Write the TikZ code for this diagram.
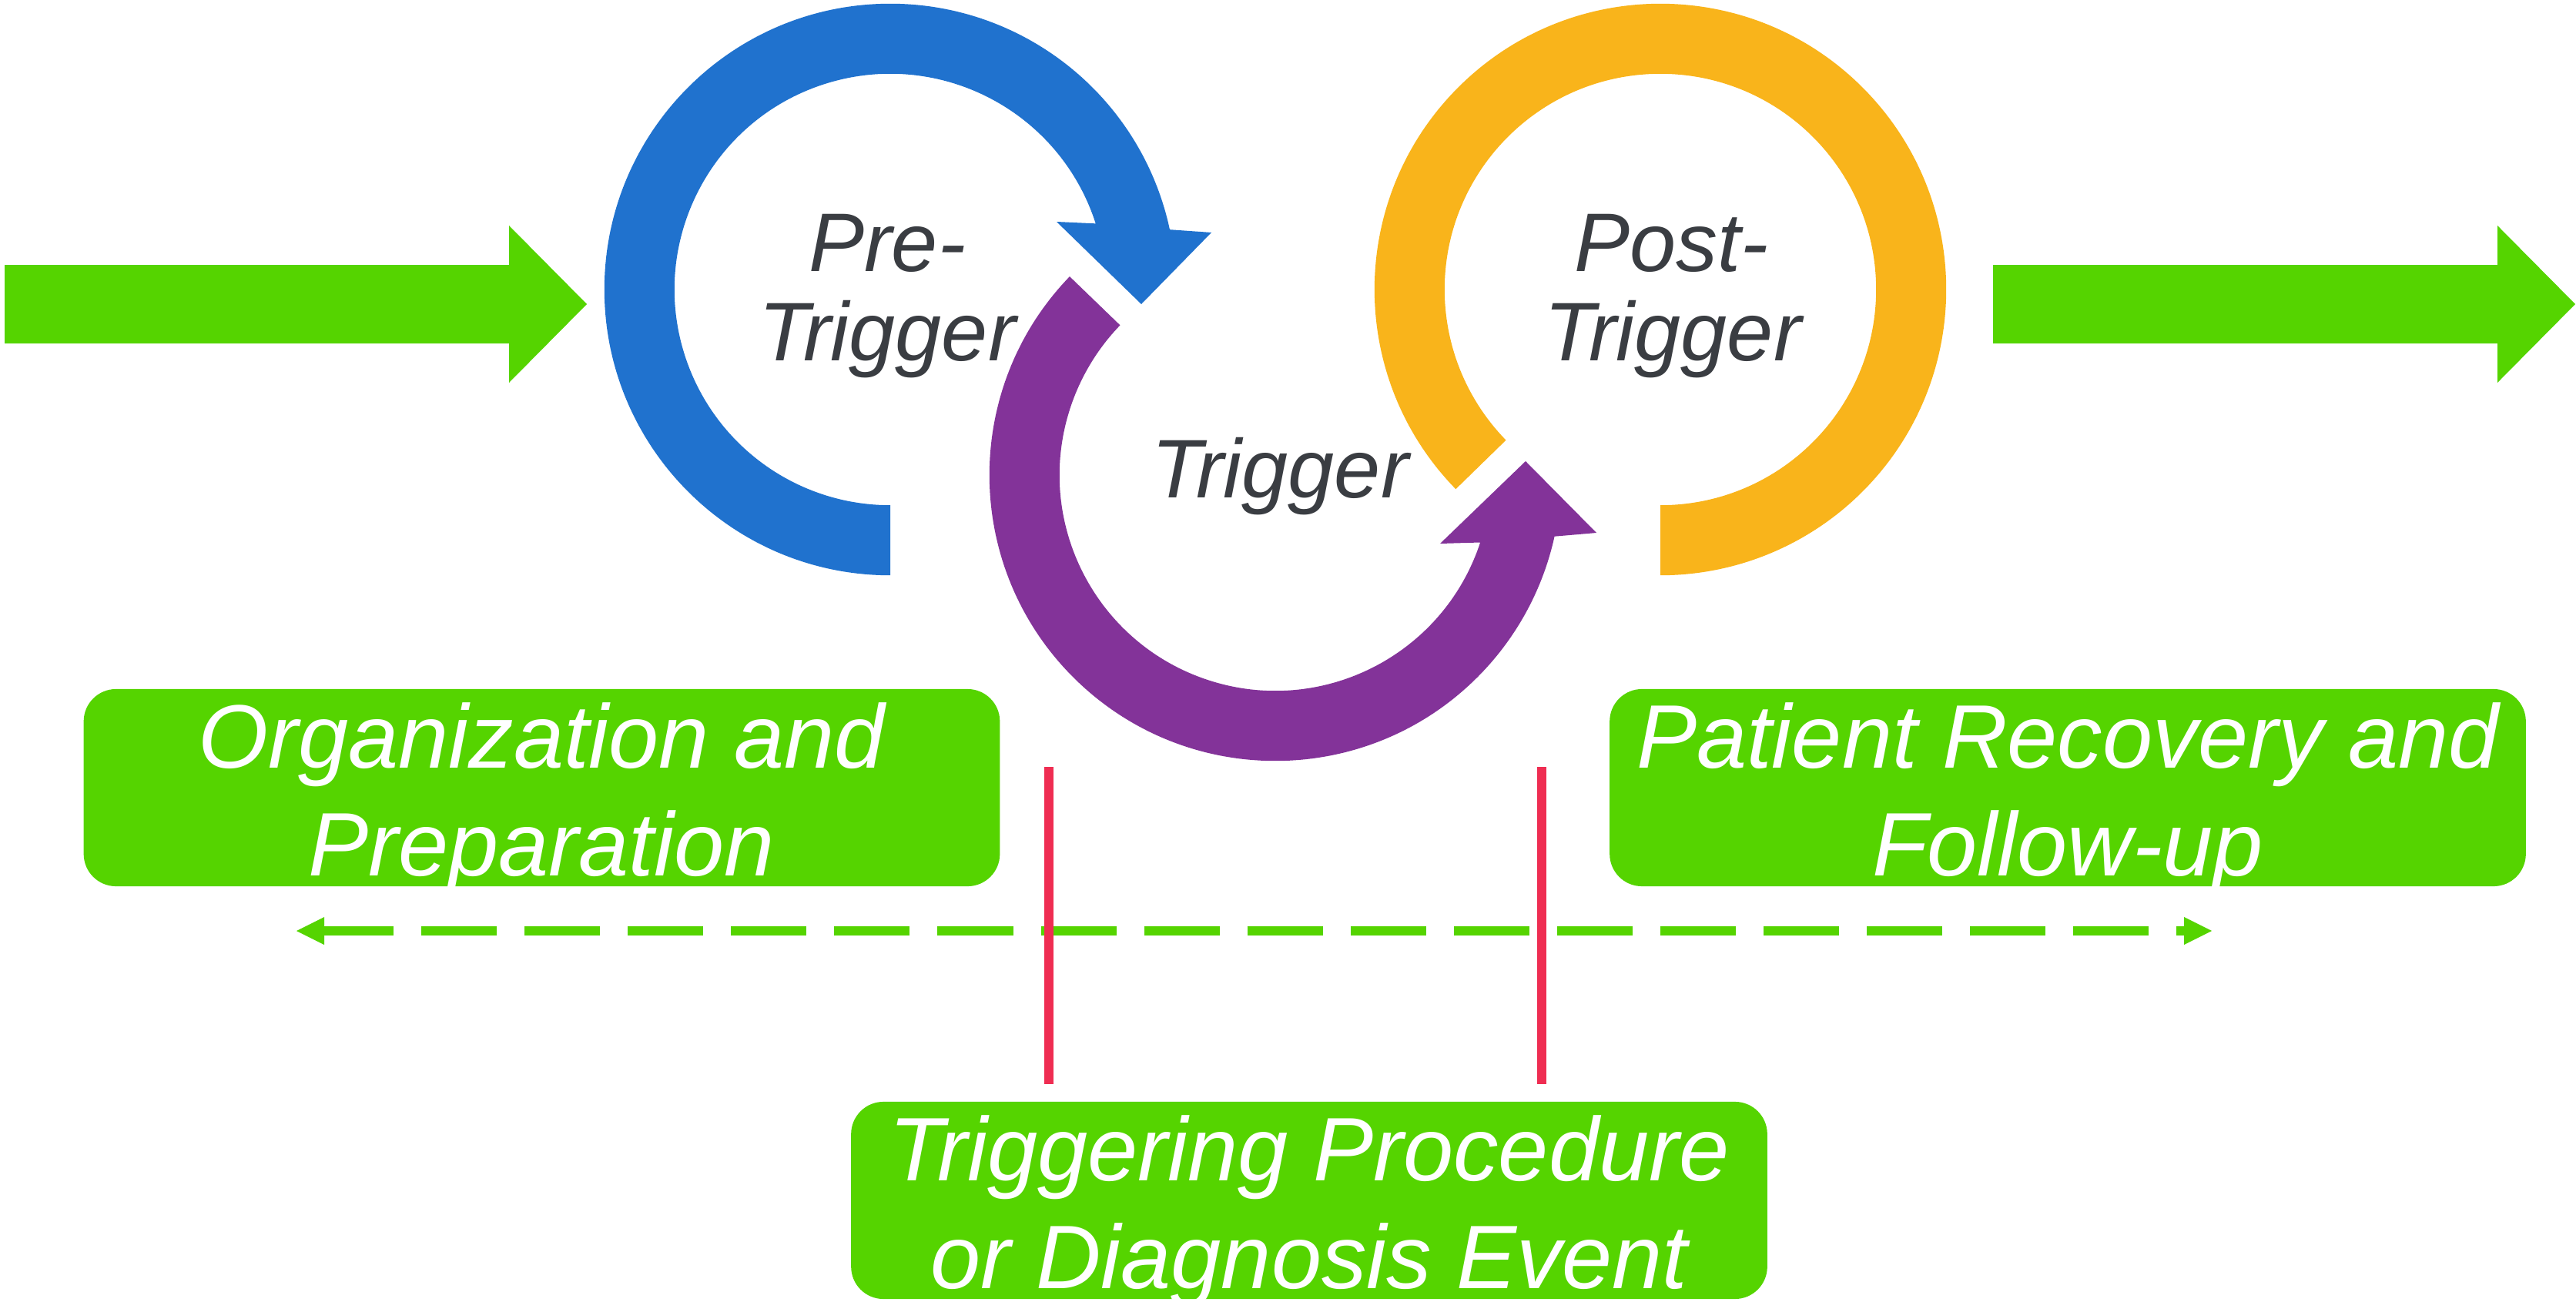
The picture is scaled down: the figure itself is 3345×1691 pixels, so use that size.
\documentclass[tikz,border=0pt]{standalone}
\usepackage{fontspec}
\setmainfont{Liberation Sans}
\usetikzlibrary{arrows.meta,calc}
\definecolor{gr}{RGB}{85,212,0}
\definecolor{bl}{RGB}{32,114,206}
\definecolor{pu}{RGB}{131,51,153}
\definecolor{ye}{RGB}{249,180,27}
\definecolor{rd}{RGB}{239,45,82}
\definecolor{tx}{RGB}{58,61,66}
\begin{document}
\begin{tikzpicture}[x=0.01cm,y=0.01cm,
  box/.style={fill=gr, rounded corners=0.42cm, minimum width=11.89cm, minimum height=2.56cm, inner sep=0pt},
  boxtext/.style={anchor=base, text=white, font=\fontsize{33.3}{40}\selectfont\itshape, inner sep=0pt},
  ringtext/.style={anchor=base, text=tx, font=\fontsize{30.7}{36}\selectfont\itshape, inner sep=0pt},
  bigarrow/.style={fill=gr},
  marker/.style={draw=rd, line width=0.12cm},
  span/.style={draw=gr, line width=0.12cm, dash pattern=on 0.98cm off 0.36cm, dash phase=0.08cm,
    {Triangle[length=0.36cm,width=0.36cm,line width=0pt]}-{Triangle[length=0.36cm,width=0.36cm,line width=0pt]}}
]
\useasboundingbox (0,0) rectangle (3345,-1691);

% big arrows
\fill[bigarrow] (6,-344) -- (661,-344) -- (661,-293) -- (762,-395) -- (661,-497) -- (661,-446) -- (6,-446) -- cycle;
\fill[bigarrow] (2588,-344) -- (3243,-344) -- (3243,-293) -- (3344,-395) -- (3243,-497) -- (3243,-446) -- (2588,-446) -- cycle;

% ring centres
\coordinate (cb) at (1156,-376);
\coordinate (cp) at (1656,-617);
\coordinate (cy) at (2156,-376);

% blue ring
\fill[bl] ($(cb)+(270:3.71cm)$) arc[start angle=270,end angle=12.1,radius=3.71cm]
  -- (1573,-302) -- (1482,-395) -- (1372,-288)
  -- ($(cb)+(17.8:2.80cm)$) arc[start angle=17.8,end angle=270,radius=2.80cm] -- cycle;
% purple ring
\fill[pu] ($(cp)+(136:3.71cm)$) arc[start angle=136,end angle=347.6,radius=3.71cm]
  -- (2073,-692) -- (1981,-599) -- (1870,-706)
  -- ($(cp)+(341.8:2.80cm)$) arc[start angle=341.8,end angle=136,radius=2.80cm] -- cycle;
% yellow ring
\fill[ye] ($(cy)+(224.3:3.71cm)$) arc[start angle=224.3,end angle=-90,radius=3.71cm]
  -- ($(cy)+(-90:2.80cm)$) arc[start angle=-90,end angle=224.3,radius=2.80cm] -- cycle;

% ring labels
\node[ringtext] (pre1) at (1152,-353) {Pre-};
\node[ringtext] (pre2) at (1152,-468) {Trigger};
\node[ringtext] (trig) at (1662,-646) {Trigger};
\node[ringtext] (post1) at (2170,-353) {Post-};
\node[ringtext] (post2) at (2172,-468) {Trigger};

% boxes
\node[box] (b1) at (703.5,-1023) {};
\node[box] (b2) at (2685,-1023) {};
\node[box] (b3) at (1700,-1559) {};
\node[boxtext] (t1a) at (703,-997) {Organization and};
\node[boxtext] (t1b) at (703,-1137) {Preparation};
\node[boxtext] (t2a) at (2685,-997) {Patient Recovery and};
\node[boxtext] (t2b) at (2685,-1137) {Follow-up};
\node[boxtext] (t3a) at (1700,-1533) {Triggering Procedure};
\node[boxtext] (t3b) at (1700,-1673) {or Diagnosis Event};

% dashed span
\coordinate (sl) at (385,-1209);
\coordinate (sr) at (2872,-1209);
\draw[span] (sl) -- (sr);

% red markers
\coordinate (r1t) at (1362,-996);
\coordinate (r1b) at (1362,-1408);
\coordinate (r2t) at (2002,-996);
\coordinate (r2b) at (2002,-1408);
\draw[marker] (r1t) -- (r1b);
\draw[marker] (r2t) -- (r2b);
\end{tikzpicture}
\end{document}
